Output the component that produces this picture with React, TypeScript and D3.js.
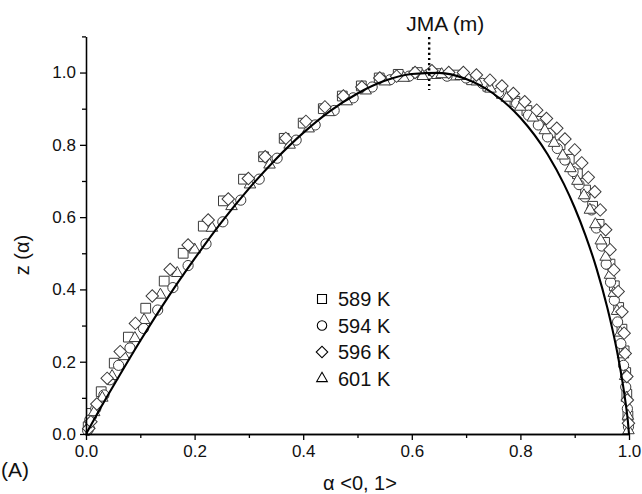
import React, { useEffect, useRef } from 'react';
import * as d3 from 'd3';

// [alpha, z(alpha)]
const s589 = [
  [0.004, 0.02], [0.01, 0.057], [0.028, 0.117], [0.052, 0.196], [0.078, 0.268], [0.11, 0.348],
  [0.144, 0.423], [0.179, 0.5], [0.216, 0.575], [0.253, 0.645], [0.29, 0.705], [0.327, 0.767],
  [0.365, 0.818], [0.4, 0.86], [0.437, 0.9], [0.472, 0.935], [0.507, 0.963], [0.54, 0.985],
  [0.575, 0.995], [0.61, 1.0], [0.645, 0.997], [0.68, 0.993], [0.71, 0.98], [0.74, 0.962],
  [0.765, 0.942], [0.79, 0.92], [0.812, 0.895], [0.835, 0.865], [0.855, 0.832], [0.873, 0.8],
  [0.89, 0.76], [0.905, 0.72], [0.92, 0.675], [0.933, 0.63], [0.945, 0.58], [0.955, 0.53],
  [0.965, 0.47], [0.973, 0.41], [0.981, 0.35], [0.987, 0.29], [0.991, 0.23], [0.994, 0.17],
  [0.996, 0.11], [0.998, 0.05],
];

const s594 = [
  [0.003, 0.01], [0.007, 0.039], [0.018, 0.07], [0.033, 0.108], [0.044, 0.15], [0.06, 0.19],
  [0.081, 0.238], [0.106, 0.292], [0.132, 0.343], [0.16, 0.405], [0.188, 0.466], [0.221, 0.526],
  [0.252, 0.587], [0.285, 0.647], [0.319, 0.705], [0.352, 0.763], [0.387, 0.813], [0.422, 0.855],
  [0.457, 0.895], [0.492, 0.93], [0.527, 0.96], [0.56, 0.98], [0.595, 0.99], [0.63, 0.995],
  [0.665, 0.99], [0.7, 0.985], [0.73, 0.97], [0.76, 0.945], [0.793, 0.915], [0.815, 0.882],
  [0.833, 0.855], [0.85, 0.822], [0.868, 0.79], [0.882, 0.758], [0.897, 0.726], [0.908, 0.69],
  [0.919, 0.656], [0.931, 0.62], [0.94, 0.57], [0.95, 0.52], [0.958, 0.47], [0.966, 0.42],
  [0.973, 0.37], [0.979, 0.31], [0.985, 0.25], [0.99, 0.19], [0.994, 0.13], [0.997, 0.07],
  [0.999, 0.02],
];

const s596 = [
  [0.005, 0.015], [0.009, 0.034], [0.02, 0.083], [0.039, 0.154], [0.063, 0.228], [0.091, 0.306],
  [0.122, 0.382], [0.155, 0.455], [0.188, 0.523], [0.225, 0.592], [0.262, 0.65], [0.299, 0.707],
  [0.33, 0.767], [0.368, 0.818], [0.405, 0.865], [0.44, 0.905], [0.474, 0.935], [0.508, 0.96],
  [0.541, 0.985], [0.572, 0.99], [0.606, 1.0], [0.637, 1.005], [0.668, 1.0], [0.695, 1.0],
  [0.719, 0.993], [0.744, 0.979], [0.766, 0.963], [0.787, 0.942], [0.808, 0.919], [0.83, 0.896],
  [0.848, 0.873], [0.867, 0.846], [0.882, 0.816], [0.9, 0.786], [0.913, 0.75], [0.925, 0.71],
  [0.937, 0.67], [0.947, 0.62], [0.957, 0.565], [0.965, 0.51], [0.972, 0.454], [0.98, 0.394],
  [0.987, 0.338], [0.991, 0.279], [0.993, 0.223], [0.996, 0.159], [0.997, 0.094], [0.999, 0.03],
];

const s601 = [
  [0.006, 0.025], [0.015, 0.06], [0.03, 0.1], [0.048, 0.16], [0.07, 0.215], [0.09, 0.265],
  [0.107, 0.315], [0.137, 0.385], [0.168, 0.445], [0.2, 0.51], [0.232, 0.57], [0.268, 0.63],
  [0.302, 0.69], [0.338, 0.745], [0.375, 0.8], [0.41, 0.845], [0.447, 0.89], [0.48, 0.92],
  [0.515, 0.95], [0.55, 0.975], [0.585, 0.985], [0.62, 0.99], [0.655, 0.995], [0.69, 0.99],
  [0.72, 0.975], [0.745, 0.955], [0.775, 0.93], [0.8, 0.905], [0.823, 0.875], [0.845, 0.84],
  [0.862, 0.805], [0.878, 0.77], [0.892, 0.735], [0.905, 0.7], [0.917, 0.66], [0.928, 0.62],
  [0.938, 0.58], [0.948, 0.535], [0.957, 0.49], [0.965, 0.44], [0.972, 0.39], [0.978, 0.34],
  [0.984, 0.28], [0.989, 0.22], [0.993, 0.16], [0.996, 0.1], [0.998, 0.05], [0.999, 0.01],
];

// JMA model curve
const jmaCurve = [
  [0, 0], [0.01, 0.027], [0.02, 0.054], [0.05, 0.132], [0.1, 0.258], [0.15, 0.376],
  [0.2, 0.485], [0.25, 0.587], [0.3, 0.679], [0.35, 0.761], [0.4, 0.833], [0.45, 0.894],
  [0.5, 0.942], [0.55, 0.977], [0.6, 0.996], [0.65, 0.999], [0.7, 0.982], [0.75, 0.942],
  [0.8, 0.875], [0.85, 0.774], [0.88, 0.692], [0.9, 0.626], [0.92, 0.549], [0.94, 0.459],
  [0.96, 0.35], [0.97, 0.286], [0.98, 0.213], [0.99, 0.125], [0.995, 0.072], [0.998, 0.034],
  [1, 0],
];

const alphaMax = 0.632;
const xMajor = [0, 0.2, 0.4, 0.6, 0.8, 1.0];
const xMinor = [0.1, 0.3, 0.5, 0.7, 0.9];
const yMajor = [0, 0.2, 0.4, 0.6, 0.8, 1.0];
const yMinor = [0.1, 0.3, 0.5, 0.7, 0.9, 1.1];

const seriesNames = ['589 K', '594 K', '596 K', '601 K'];
const seriesData = [s589, s594, s596, s601];

const FONT = '"Liberation Sans", Arial, sans-serif';

function App() {
    const svgRef = useRef();
    const width = 642;
    const height = 494;

    useEffect(() => {
        const svg = d3.select(svgRef.current);
        svg.selectAll('*').remove();

        const x = d3.scaleLinear().domain([0, 1]).range([86, 629]);
        const y = d3.scaleLinear().domain([0, 1.1]).range([434, 36.4]);

        const shapes = [
            { sym: d3.symbolSquare, size: 95, rot: 0 },
            { sym: d3.symbolCircle, size: 82, rot: 0 },
            { sym: d3.symbolSquare, size: 78, rot: 45 },
            { sym: d3.symbolTriangle, size: 58, rot: 0 },
        ];

        // markers, drawn in the order the plot seems to stack them
        const order = [0, 1, 3, 2];
        order.forEach(i => {
            const sh = shapes[i];
            const path = d3.symbol().type(sh.sym).size(sh.size)();
            svg.append('g')
                .selectAll('path')
                .data(seriesData[i])
                .enter()
                .append('path')
                .attr('d', path)
                .attr('transform', d => `translate(${x(d[0])},${y(d[1])}) rotate(${sh.rot})`)
                .attr('fill', 'white')
                .attr('stroke', '#3a3a3a')
                .attr('stroke-width', 1);
        });

        // model line
        const line = d3.line().x(d => x(d[0])).y(d => y(d[1])).curve(d3.curveMonotoneX);
        svg.append('path')
            .datum(jmaCurve)
            .attr('d', line)
            .attr('fill', 'none')
            .attr('stroke', 'black')
            .attr('stroke-width', 2.1);

        // axes
        const styleAxis = g => {
            g.select('.domain').attr('stroke', 'black').attr('stroke-width', 1.3);
            g.selectAll('.tick line').attr('stroke', 'black').attr('stroke-width', 1.3);
            g.selectAll('text').attr('font-family', FONT).attr('font-size', 17).attr('fill', '#111');
        };

        svg.append('g')
            .attr('transform', `translate(0,${y(0)})`)
            .call(d3.axisBottom(x).tickValues(xMinor).tickSize(4).tickSizeOuter(0).tickFormat(''))
            .call(styleAxis);
        svg.append('g')
            .attr('transform', `translate(0,${y(0)})`)
            .call(d3.axisBottom(x).tickValues(xMajor).tickSize(6).tickSizeOuter(0).tickFormat(d3.format('.1f')).tickPadding(5))
            .call(styleAxis);

        svg.append('g')
            .attr('transform', `translate(${x(0)},0)`)
            .call(d3.axisLeft(y).tickValues(yMinor).tickSize(4).tickSizeOuter(0).tickFormat(''))
            .call(styleAxis);
        svg.append('g')
            .attr('transform', `translate(${x(0)},0)`)
            .call(d3.axisLeft(y).tickValues(yMajor).tickSize(6).tickSizeOuter(0).tickFormat(d3.format('.1f')).tickPadding(4))
            .call(styleAxis);

        // dotted marker at alpha max
        svg.append('line')
            .attr('x1', x(alphaMax)).attr('x2', x(alphaMax))
            .attr('y1', y(1.098)).attr('y2', y(0.952))
            .attr('stroke', 'black')
            .attr('stroke-width', 2.4)
            .attr('stroke-dasharray', '2.2 3');

        svg.append('text')
            .attr('x', x(alphaMax) - 23)
            .attr('y', 31)
            .attr('font-family', FONT)
            .attr('font-size', 21)
            .attr('fill', '#111')
            .text('JMA (m)');

        // legend
        const legend = svg.append('g');
        seriesNames.forEach((name, i) => {
            const sh = shapes[i];
            const ly = 299 + i * 26.5;
            legend.append('path')
                .attr('d', d3.symbol().type(sh.sym).size(sh.size * 0.85)())
                .attr('transform', `translate(322,${ly}) rotate(${sh.rot})`)
                .attr('fill', 'white')
                .attr('stroke', 'black')
                .attr('stroke-width', 1.1);
            legend.append('text')
                .attr('x', 338)
                .attr('y', ly + 7)
                .attr('font-family', FONT)
                .attr('font-size', 20)
                .attr('fill', '#111')
                .text(name);
        });

        // titles
        svg.append('text')
            .attr('transform', 'translate(29,255) rotate(-90)')
            .attr('text-anchor', 'middle')
            .attr('font-family', FONT)
            .attr('font-size', 20)
            .attr('fill', '#111')
            .text('z (α)');

        svg.append('text')
            .attr('x', 360)
            .attr('y', 490)
            .attr('text-anchor', 'middle')
            .attr('font-family', FONT)
            .attr('font-size', 20)
            .attr('fill', '#111')
            .text('α <0, 1>');

        svg.append('text')
            .attr('x', 1)
            .attr('y', 477)
            .attr('font-family', FONT)
            .attr('font-size', 21)
            .attr('fill', '#111')
            .text('(A)');
    }, []);

    return (
        <svg ref={svgRef} width={width} height={height}
            style={{ position: 'absolute', left: 0, top: 0, background: 'white' }} />
    );
}

export default App;
